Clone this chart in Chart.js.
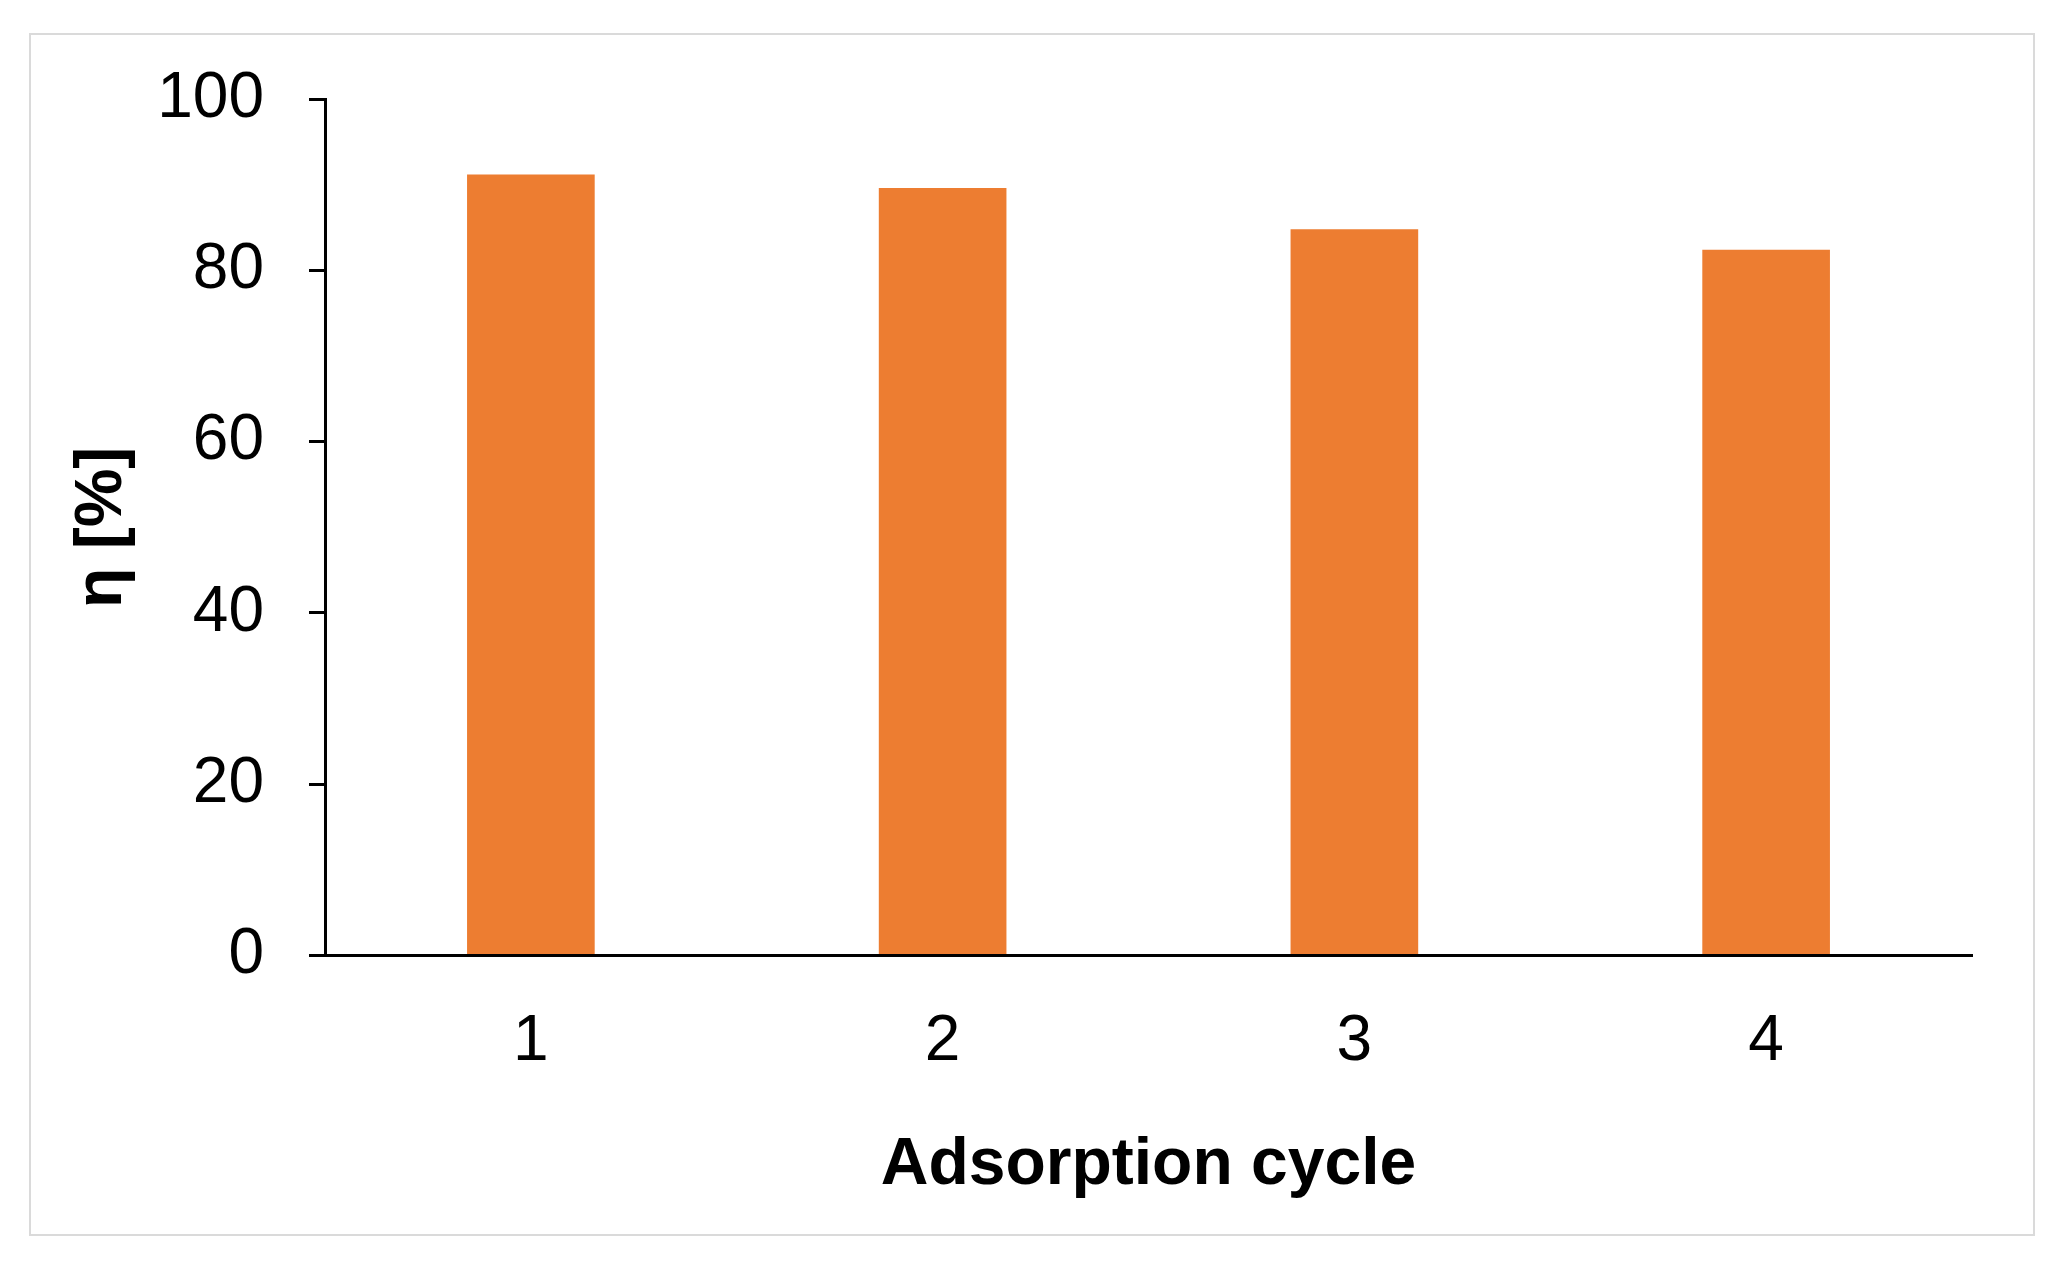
<!DOCTYPE html>
<html>
<head>
<meta charset="utf-8">
<script src="https://cdn.jsdelivr.net/npm/chart.js@4/dist/chart.umd.min.js"></script>
<style>
    body { margin: 0; background: #fff; }
    #wrap { position: relative; width: 2061px; height: 1266px; }
    #frame {
        position: absolute; left: 29px; top: 33px; width: 2006px; height: 1203px;
        box-sizing: border-box; border: 2px solid #dadada; pointer-events: none;
    }
</style>
</head>
<body>
<div id="wrap">
    <canvas id="myChart" width="2061" height="1266"></canvas>
    <div id="frame"></div>
</div>
<script>
// data
const cycles = ["1", "2", "3", "4"];
const efficiency = [91.2, 89.6, 84.8, 82.4]; // η in %
const yTicks = [0, 20, 40, 60, 80, 100];

const fontFamily = "'Liberation Sans', Arial, sans-serif";

const ctx = document.getElementById('myChart').getContext('2d');
const myChart = new Chart(ctx, {
    type: 'bar',
    data: {
        labels: cycles,
        datasets: [{
            data: efficiency,
            backgroundColor: '#ED7D31',
            borderWidth: 0,
            categoryPercentage: 1,
            barPercentage: 0.31
        }]
    },
    options: {
        responsive: false,
        animation: false,
        layout: { padding: { left: 0, right: 89, top: 99, bottom: 0 } },
        plugins: {
            legend: { display: false },
            tooltip: { enabled: false }
        },
        scales: {
            x: {
                grid: { display: false, drawTicks: false },
                border: { display: true, color: '#000', width: 3 },
                ticks: {
                    color: '#000',
                    padding: 48,
                    font: { family: fontFamily, size: 64 }
                },
                title: {
                    display: true,
                    text: 'Adsorption cycle',
                    color: '#000',
                    font: { family: fontFamily, size: 66, weight: 'bold' },
                    padding: { top: 0, bottom: 61 }
                },
                afterFit: function(scale) {
                    scale.height = 310.4; // keep axis line where the reference has it
                }
            },
            y: {
                min: 0,
                max: 100,
                afterBuildTicks: function(scale) {
                    scale.ticks = yTicks.map(v => ({ value: v }));
                },
                grid: {
                    display: true,
                    drawOnChartArea: false,
                    drawTicks: true,
                    tickLength: 16,
                    color: '#000',
                    lineWidth: 3
                },
                border: { display: true, color: '#000', width: 3 },
                ticks: {
                    color: '#000',
                    padding: 45,
                    font: { family: fontFamily, size: 64 }
                },
                title: {
                    display: true,
                    text: 'η [%]',
                    color: '#000',
                    font: { family: fontFamily, size: 66, weight: 'bold' },
                    padding: { top: 63, bottom: 0 }
                },
                afterFit: function(scale) {
                    scale.width = 325;
                }
            }
        }
    }
});
</script>
</body>
</html>
